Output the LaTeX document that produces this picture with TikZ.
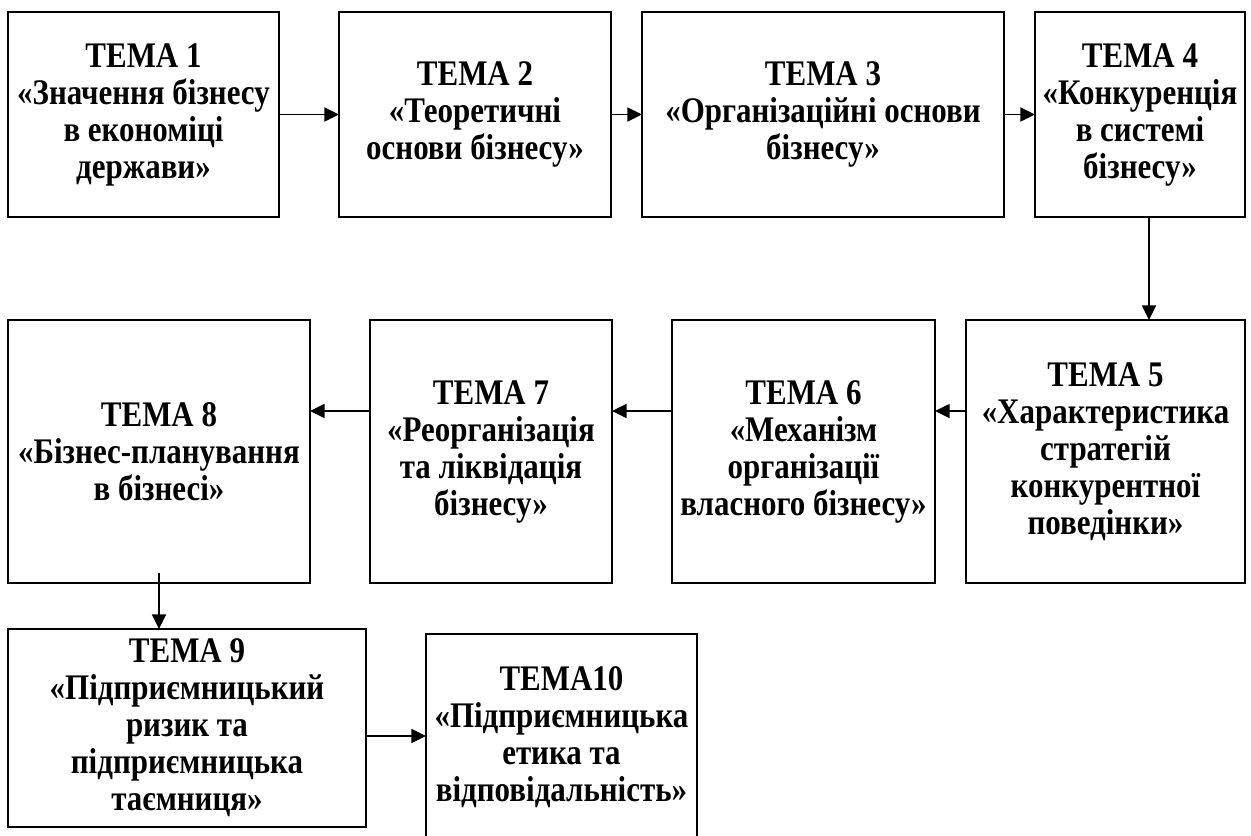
\documentclass[tikz,border=0pt]{standalone}
\usepackage{fontspec}
\setmainfont{Liberation Serif}
\newfontfamily\condserif[FakeStretch=0.86]{Liberation Serif}
\usetikzlibrary{arrows.meta}
\tikzset{
  tbox/.style={draw=black, line width=1.3pt, fill=white, inner sep=0pt, outer sep=0pt,
    align=center, font=\condserif\bfseries\fontsize{27pt}{27.75pt}\selectfont},
  sz/.style 2 args={minimum width=#1*0.75pt, minimum height=#2*0.75pt},
  arr/.style={draw=black, line width=1.2pt, -{Triangle[length=11pt, width=10.5pt]}}
}
\begin{document}
\begin{tikzpicture}[x=0.75pt, y=-0.75pt]
\useasboundingbox (0,0) rectangle (1251,835);
% row 1
\node[tbox, sz={271}{205}] (b1) at (143.5,114.5) {ТЕМА 1\\«Значення бізнесу\\в економіці\\держави»};
\node[tbox, sz={272}{205}] (b2) at (475,114.5) {ТЕМА 2\\«Теоретичні\\основи бізнесу»};
\node[tbox, sz={362}{205}] (b3) at (823,114.5) {ТЕМА 3\\«Організаційні основи\\бізнесу»};
\node[tbox, sz={210}{205}] (b4) at (1140,114.5) {ТЕМА 4\\«Конкуренція\\в системі\\бізнесу»};
% row 2
\node[tbox, sz={279}{263}] (b5) at (1105.5,451.5) {ТЕМА 5\\«Характеристика\\стратегій\\конкурентної\\поведінки»};
\node[tbox, sz={263}{263}] (b6) at (803.5,451.5) {ТЕМА 6\\«Механізм\\організації\\власного бізнесу»};
\node[tbox, sz={242}{263}] (b7) at (491,451.5) {ТЕМА 7\\«Реорганізація\\та ліквідація\\бізнесу»};
\node[tbox, sz={302}{263}] (b8) at (159,451.5) {ТЕМА 8\\«Бізнес-планування\\в бізнесі»};
% row 3
\node[tbox, sz={358}{198}] (b9) at (187,728) {ТЕМА 9\\«Підприємницький\\ризик та\\підприємницька\\таємниця»};
\node[tbox, sz={271}{206}] (b10) at (561.5,737) {ТЕМА10\\«Підприємницька\\етика та\\відповідальність»};
% helper coordinates
\coordinate (r2) at (0,411);
\coordinate (r3) at (0,736);
\coordinate (c45) at (1149,0);
\coordinate (c89) at (159,573);
% connectors
\draw[arr] (b1.east) -- (b2.west);
\draw[arr] (b2.east) -- (b3.west);
\draw[arr] (b3.east) -- (b4.west);
\draw[arr] (c45 |- b4.south) -- (c45 |- b5.north);
\draw[arr] (b5.west |- r2) -- (b6.east |- r2);
\draw[arr] (b6.west |- r2) -- (b7.east |- r2);
\draw[arr] (b7.west |- r2) -- (b8.east |- r2);
\draw[arr] (c89) -- (c89 |- b9.north);
\draw[arr] (b9.east |- r3) -- (b10.west |- r3);
\end{tikzpicture}
\end{document}
